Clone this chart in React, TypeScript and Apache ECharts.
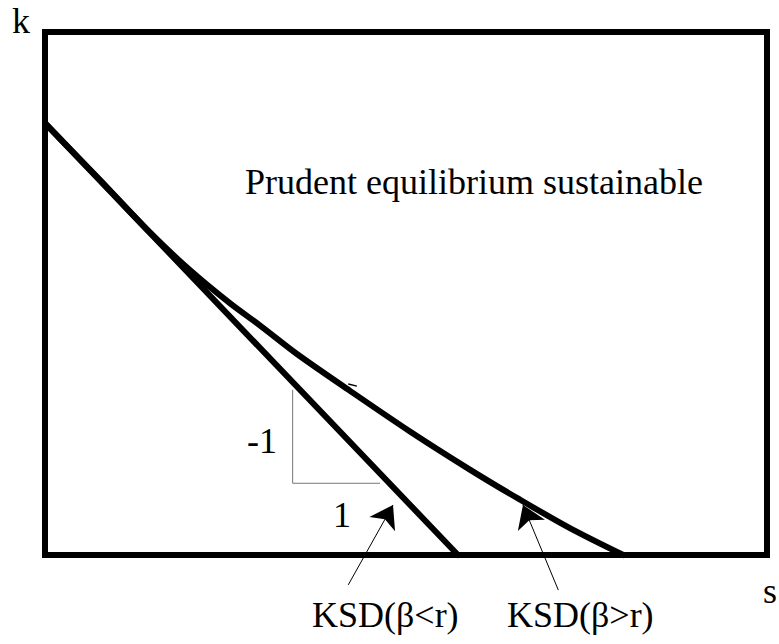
import React, { useEffect, useRef } from "react";
import * as echarts from "echarts";

// Data units: s on x (0..10), k on y (0..7)
const straightKSD: [number, number][] = [
  [0, 5.78],
  [5.72, 0],
];
const curvedKSD: [number, number][] = [
  [0, 5.78],
  [0.76, 5.02],
  [1.45, 4.32],
  [2.01, 3.81],
  [2.56, 3.37],
  [2.98, 3.07],
  [3.49, 2.69],
  [4.22, 2.2],
  [5.06, 1.65],
  [5.89, 1.14],
  [6.58, 0.74],
  [7.27, 0.36],
  [8.01, 0],
];
const slopeTriangle: [number, number][] = [
  [3.43, 2.21],
  [3.43, 0.96],
  [4.64, 0.96],
];
const strayMark: [number, number][] = [
  [4.2, 2.29],
  [4.32, 2.26],
];
const arrows: [number, number][][] = [
  [
    [4.2, -0.4],
    [4.82, 0.67],
  ],
  [
    [7.11, -0.47],
    [6.62, 0.67],
  ],
];
const axisLabels = { k: "k", s: "s" };
const regionLabel = "Prudent equilibrium sustainable";
const slopeLabels = ["-1", "1"];
const curveLabels = ["KSD(β<r)", "KSD(β>r)"];

const FONT = "Times New Roman, Liberation Serif, Times, serif";

export default function App() {
  const ref = useRef<HTMLDivElement>(null);
  useEffect(() => {
    if (!ref.current) return;
    const chart = echarts.init(ref.current, undefined, { renderer: "svg" });
    const txt = (text: string, x: number, y: number) => ({
      type: "text",
      x,
      y,
      style: {
        text,
        fill: "#000",
        fontFamily: FONT,
        fontSize: 36,
        verticalAlign: "middle",
        align: "left",
      },
    });
    chart.setOption({
      animation: false,
      backgroundColor: "#fff",
      textStyle: { fontFamily: FONT },
      grid: {
        left: 45,
        top: 32,
        right: 12,
        bottom: 89,
        show: true,
        borderWidth: 6,
        borderColor: "#000",
        backgroundColor: "transparent",
      },
      xAxis: { type: "value", min: 0, max: 10, show: false },
      yAxis: { type: "value", min: 0, max: 7, show: false },
      series: [
        {
          type: "line",
          data: straightKSD,
          showSymbol: false,
          symbol: "none",
          clip: false,
          lineStyle: { color: "#000", width: 6, cap: "round" },
          z: 5,
        },
        {
          type: "line",
          data: curvedKSD,
          showSymbol: false,
          symbol: "none",
          smooth: 0.3,
          clip: false,
          lineStyle: { color: "#000", width: 6, cap: "round" },
          z: 5,
        },
        {
          type: "line",
          data: slopeTriangle,
          showSymbol: false,
          symbol: "none",
          lineStyle: { color: "#777", width: 1 },
          z: 4,
        },
        {
          type: "line",
          data: strayMark,
          showSymbol: false,
          symbol: "none",
          lineStyle: { color: "#000", width: 1.5 },
          z: 4,
        },
        {
          type: "lines",
          coordinateSystem: "cartesian2d",
          clip: false,
          symbol: ["none", "arrow"],
          symbolSize: [0, 22],
          lineStyle: { color: "#000", width: 1, opacity: 1 },
          data: arrows.map((coords) => ({ coords })),
          z: 6,
        },
      ],
      graphic: [
        txt(axisLabels.k, 12, 21),
        txt(axisLabels.s, 763, 591),
        txt(regionLabel, 245, 182),
        txt(slopeLabels[0], 247, 441),
        txt(slopeLabels[1], 333, 515),
        txt(curveLabels[0], 312, 615),
        txt(curveLabels[1], 507, 615),
      ],
    });
    return () => chart.dispose();
  }, []);
  return (
    <div
      ref={ref}
      style={{ position: "fixed", left: 0, top: 0, width: 779, height: 644 }}
    />
  );
}
